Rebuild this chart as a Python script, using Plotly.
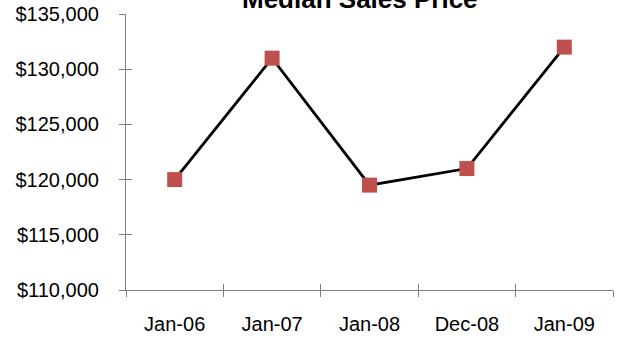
import plotly.graph_objects as go

# Median sales price by period
periods = ["Jan-06", "Jan-07", "Jan-08", "Dec-08", "Jan-09"]
median_price = [120000, 131000, 119500, 121000, 132000]
y_ticks = [110000, 115000, 120000, 125000, 130000, 135000]
y_tick_labels = ["$110,000", "$115,000", "$120,000", "$125,000", "$130,000", "$135,000"]

axis_color = "#7f7f7f"
font = dict(family="Liberation Sans, Arial, sans-serif", size=20, color="#000000")

fig = go.Figure()
fig.add_trace(go.Scatter(
    x=periods, y=median_price, mode="lines+markers",
    line=dict(color="#000000", width=2.8),
    marker=dict(symbol="square", size=15, color="#C0504D"),
    cliponaxis=False, showlegend=False,
))

# invisible trace to bring the overlay axes into the figure
fig.add_trace(go.Scatter(
    x=periods, y=median_price, xaxis="x2", yaxis="y2", mode="markers",
    marker=dict(opacity=0), hoverinfo="skip", showlegend=False,
))

fig.update_layout(
    width=626, height=341,
    margin=dict(l=126, r=13, t=14, b=51, autoexpand=False),
    paper_bgcolor="white", plot_bgcolor="white",
    font=font,
    xaxis=dict(
        type="category", range=[-0.5, 4.5], showgrid=False, zeroline=False,
        showline=True, linecolor=axis_color, linewidth=1.2,
        ticks="outside", tickson="boundaries", ticklen=6, tickcolor=axis_color,
        ticklabelstandoff=16, automargin=False,
    ),
    yaxis=dict(
        range=[110000, 135000], tickvals=y_ticks, ticktext=y_tick_labels,
        showgrid=False, zeroline=False,
        showline=True, linecolor=axis_color, linewidth=1.2,
        ticks="outside", ticklen=6, tickcolor=axis_color,
        ticklabelstandoff=16, automargin=False,
    ),
    # inner halves of the crossing tick marks
    xaxis2=dict(
        type="category", range=[-0.5, 4.5], overlaying="x",
        showticklabels=False, showgrid=False, zeroline=False,
        showline=False, ticks="inside", tickson="boundaries", ticklen=6,
        tickcolor=axis_color, side="bottom", automargin=False,
    ),
    yaxis2=dict(
        range=[110000, 135000], overlaying="y", tickvals=y_ticks,
        showticklabels=False, showgrid=False, zeroline=False, showline=False,
        ticks="inside", ticklen=6, tickcolor=axis_color, side="left",
        automargin=False,
    ),
    annotations=[dict(
        text="<b>Median Sales Price</b>", xref="paper", yref="paper",
        x=(360 - 126) / (613 - 126), y=1, xanchor="center", yanchor="middle",
        yshift=14 + 1, showarrow=False,
        font=dict(family="Liberation Sans, Arial, sans-serif", size=26, color="#000000"),
    )],
)

fig.write_html("out.html")
